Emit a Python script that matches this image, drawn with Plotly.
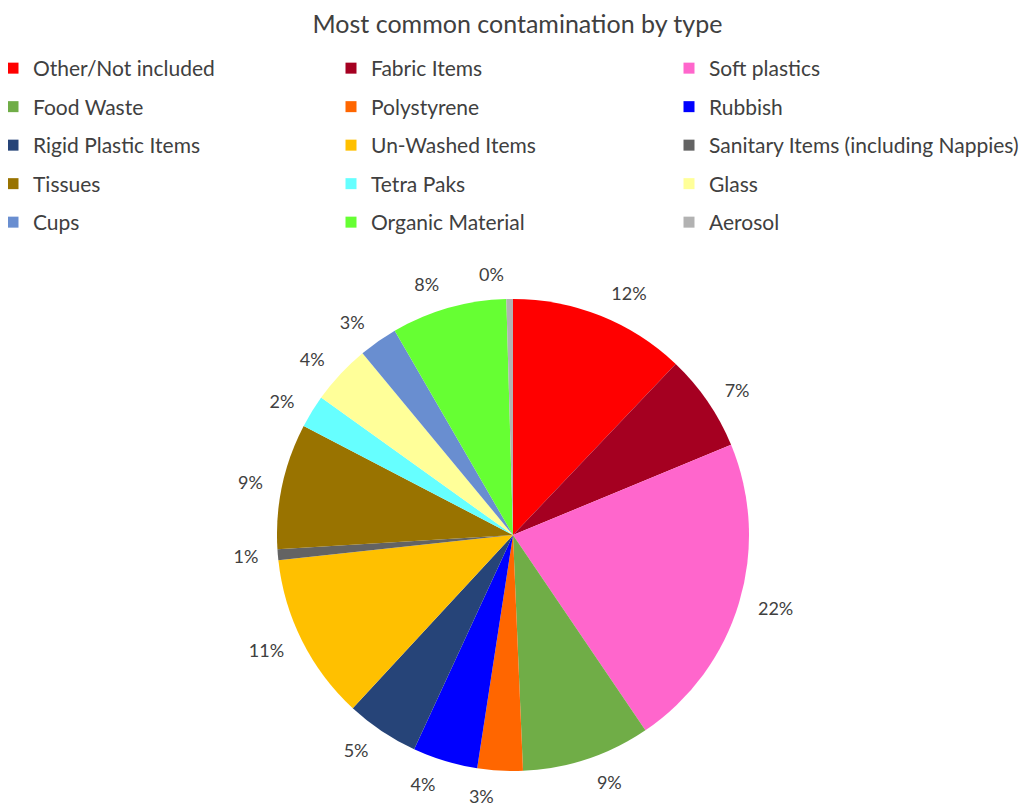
import plotly.graph_objects as go

categories = ["Other/Not included", "Fabric Items", "Soft plastics",
              "Food Waste", "Polystyrene", "Rubbish",
              "Rigid Plastic Items", "Un-Washed Items", "Sanitary Items (including Nappies)",
              "Tissues", "Tetra Paks", "Glass",
              "Cups", "Organic Material", "Aerosol"]
values = [12.1, 6.65, 21.75, 8.8, 3.1, 4.45, 5.0, 11.4, 0.75, 8.6, 2.25, 4.1, 2.65, 7.9, 0.45]
colors = ["#FF0000", "#A50021", "#FF66CC", "#70AD47", "#FF6600", "#0000FF",
          "#264478", "#FFC000", "#636363", "#997300", "#66FFFF", "#FFFF99",
          "#698ED0", "#66FF33", "#B2B2B2"]

FONT = "Lato"
TXT = "#404040"
W, H = 1027, 807

# pie geometry: centre / radius in pixels (with a 7px rendering offset compensated)
cx, cy, r = 505, 527, 236
r_lab = 250      # transparent twin pie carrying most outside percentage labels
r_lab2 = 250     # second twin for the two labels near 12 and 6 o'clock (avoids label scooting)
near_axis = {"Polystyrene", "Aerosol"}


def dom(rad):
    return dict(x=[(cx - rad) / W, (cx + rad) / W], y=[(H - cy - rad) / H, (H - cy + rad) / H])


fig = go.Figure()
fig.add_trace(go.Pie(
    labels=categories, values=values, sort=False, direction="clockwise", rotation=0,
    marker=dict(colors=colors, line=dict(width=0)),
    textinfo="none", showlegend=False, domain=dom(r),
    hoverinfo="label+percent",
))
label_style = dict(
    labels=categories, values=values, sort=False, direction="clockwise", rotation=0,
    marker=dict(colors=["rgba(0,0,0,0)"] * len(values), line=dict(width=0)),
    texttemplate="<span style='color:" + TXT + ";fill-opacity:1'>%{percent:.0%}</span>",
    textfont=dict(family=FONT, size=18, color="rgba(0,0,0,0)"),
    outsidetextfont=dict(family=FONT, size=18, color="rgba(0,0,0,0)"),
    showlegend=False, hoverinfo="skip",
)
fig.add_trace(go.Pie(
    textposition=["none" if c in near_axis else "outside" for c in categories],
    domain=dom(r_lab), **label_style,
))
fig.add_trace(go.Pie(
    textposition=["outside" if c in near_axis else "none" for c in categories],
    domain=dom(r_lab2), **label_style,
))

# legend entries: three columns of five rows
text_x = [33, 371, 709]
legend_names = ["legend", "legend2", "legend3"]
for i, (lab, col) in enumerate(zip(categories, colors)):
    fig.add_trace(go.Scatter(
        x=[None], y=[None], mode="markers", name=lab,
        marker=dict(symbol="square", size=11, color=col),
        legendgroup=lab, legend=legend_names[i % 3], showlegend=True,
        hoverinfo="skip",
    ))

legend_common = dict(orientation="v", yanchor="top", xanchor="left",
                     font=dict(family=FONT, size=21, color=TXT),
                     bgcolor="rgba(0,0,0,0)", tracegroupgap=8.2, itemwidth=30)
layout_legends = {}
for name, x in zip(legend_names, text_x):
    layout_legends[name] = dict(legend_common, x=(x - 48) / W, y=1 - 40 / H)

fig.update_layout(
    width=W, height=H,
    margin=dict(l=0, r=0, t=0, b=0, autoexpand=False),
    paper_bgcolor="white", plot_bgcolor="white",
    title=dict(text="Most common contamination by type", x=0.5 - 4 / W, xanchor="center",
               y=1 - 16 / H, yanchor="middle",
               font=dict(family=FONT, size=25, color=TXT)),
    xaxis=dict(visible=False), yaxis=dict(visible=False),
    **layout_legends,
)

fig.write_html("out.html")
